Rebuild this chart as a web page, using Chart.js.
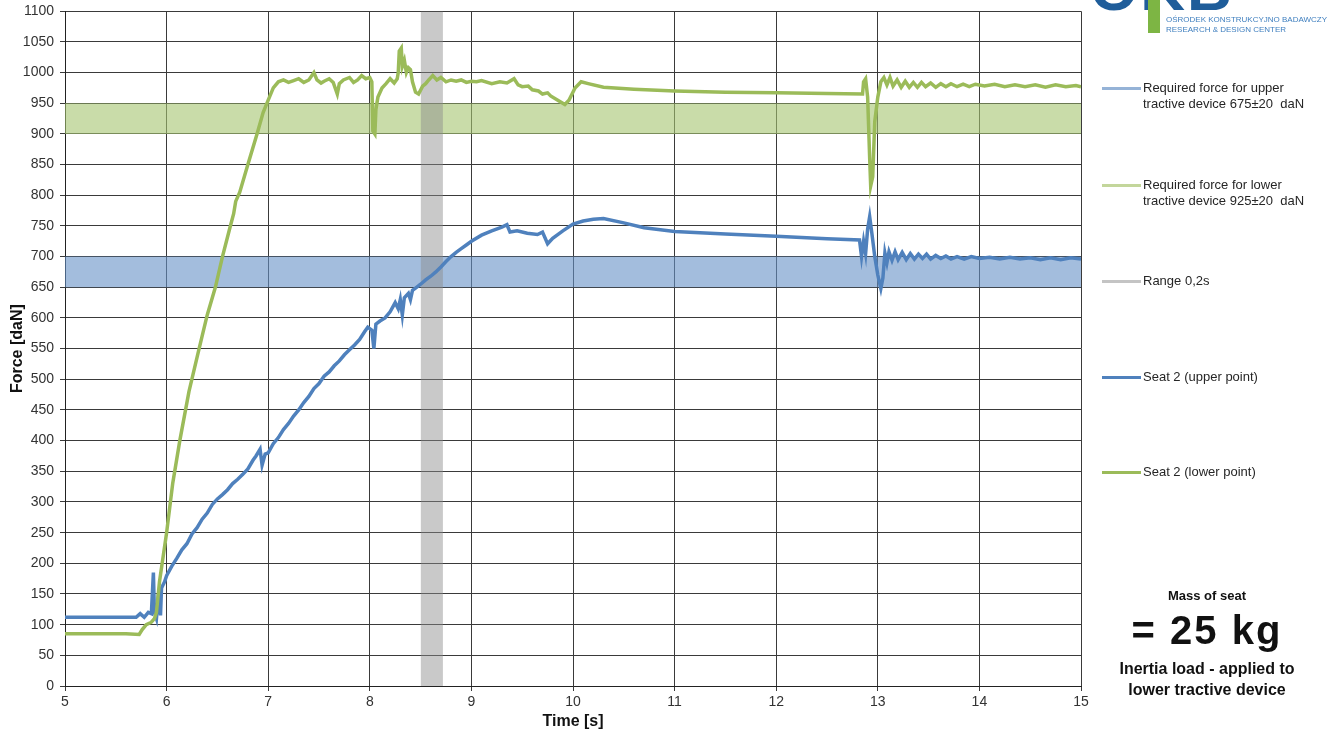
<!DOCTYPE html>
<html lang="en">
<head>
  <meta charset="UTF-8" />
  <title>Seat 2 - force vs time</title>
  <script src="https://cdn.jsdelivr.net/npm/chart.js"></script>
  <style>
    body { margin: 0; background: #fff; font-family: 'Liberation Sans', Arial, sans-serif; overflow: hidden; }
    #wrap { position: relative; width: 1329px; height: 735px; }
    #grafico { position: absolute; left: 0; top: 0; }
    .leg { position: absolute; left: 1102px; font-size: 13px; line-height: 16px; color: #262626; }
    .leg i { position: absolute; left: 0; width: 39px; height: 3px; }
    .leg span { position: absolute; left: 41px; white-space: nowrap; }
    .note { position: absolute; left: 1087px; width: 240px; text-align: center; font-weight: bold; color: #111; white-space: nowrap; }
    #logo { position: absolute; left: 1090px; top: 0; width: 239px; height: 40px; overflow: hidden; }
    #logo .big { position: absolute; left: 0; top: -42px; font: bold 62px/62px 'Liberation Sans', Arial, sans-serif; color: #1f5d9a; letter-spacing: 2px; }
    #logo .bar { position: absolute; left: 58px; top: 0; width: 12px; height: 33px; background: #7db544; }
    #logo .small { position: absolute; left: 76px; font-size: 8px; line-height: 10px; color: #3f7fbf; white-space: nowrap; }
  </style>
</head>
<body>
<div id="wrap">
  <canvas id="grafico" width="1329" height="735"></canvas>

  <div id="logo">
    <div class="big">OKB</div>
    <div class="bar"></div>
    <div class="small" style="top:15px">OŚRODEK KONSTRUKCYJNO BADAWCZY</div>
    <div class="small" style="top:25px">RESEARCH &amp; DESIGN CENTER</div>
  </div>

  <div class="leg" style="top:80px"><i style="top:7px;background:#95b3d7"></i><span>Required force for upper<br>tractive device 675±20&nbsp; daN</span></div>
  <div class="leg" style="top:177px"><i style="top:7px;background:#c3d69b"></i><span>Required force for lower<br>tractive device 925±20&nbsp; daN</span></div>
  <div class="leg" style="top:273px"><i style="top:7px;background:#c4c4c4"></i><span>Range 0,2s</span></div>
  <div class="leg" style="top:369px"><i style="top:7px;background:#4f81bd"></i><span>Seat 2 (upper point)</span></div>
  <div class="leg" style="top:464px"><i style="top:7px;background:#9bbb59"></i><span>Seat 2 (lower point)</span></div>

  <div class="note" style="top:588px;font-size:13px;line-height:16px">Mass of seat</div>
  <div class="note" style="top:608px;font-size:40px;line-height:44px;letter-spacing:2px">= 25 kg</div>
  <div class="note" style="top:659px;font-size:16px;line-height:20px">Inertia load - applied to</div>
  <div class="note" style="top:680px;font-size:16px;line-height:20px">lower tractive device</div>
</div>

<script>
  // Seat 2 (lower point) - time [s] / force [daN]
  const lowerTime = [5.00, 5.30, 5.60, 5.73, 5.76, 5.80, 5.85, 5.88, 5.90, 5.93, 6.00, 6.06, 6.13, 6.22, 6.32, 6.40, 6.48, 6.55, 6.62, 6.66,
    6.68, 6.72, 6.80, 6.89, 6.95, 7.00, 7.05, 7.10, 7.15, 7.20, 7.25, 7.30, 7.35, 7.40, 7.45, 7.48, 7.52, 7.55, 7.60, 7.64,
    7.68, 7.70, 7.74, 7.80, 7.84, 7.88, 7.92, 7.96, 8.00, 8.02, 8.03, 8.05, 8.06, 8.08, 8.12, 8.16, 8.20, 8.24, 8.27, 8.28,
    8.29, 8.31, 8.32, 8.34, 8.36, 8.38, 8.40, 8.42, 8.45, 8.48, 8.52, 8.55, 8.58, 8.62, 8.66, 8.70, 8.75, 8.80, 8.85, 8.90,
    8.95, 9.00, 9.05, 9.10, 9.20, 9.28, 9.35, 9.42, 9.46, 9.50, 9.56, 9.60, 9.66, 9.70, 9.75, 9.78, 9.85, 9.92, 9.96, 10.02,
    10.08, 10.15, 10.30, 10.60, 11.00, 11.50, 12.00, 12.50, 12.85, 12.86, 12.88, 12.90, 12.92, 12.93, 12.95, 12.97, 13.00, 13.03, 13.06, 13.09,
    13.12, 13.15, 13.19, 13.23, 13.27, 13.31, 13.35, 13.39, 13.43, 13.47, 13.52, 13.57, 13.62, 13.67, 13.72, 13.78, 13.84, 13.90, 13.96, 14.05,
    14.15, 14.25, 14.35, 14.45, 14.55, 14.65, 14.75, 14.85, 14.95, 15.00];
  const lowerForce = [85, 85, 85, 84, 92, 100, 104, 110, 120, 170, 250, 330, 400, 480, 550, 605, 650, 700, 745, 770,
    790, 805, 850, 900, 935, 955, 975, 985, 988, 984, 987, 990, 984, 988, 1000, 988, 983, 986, 990, 984,
    965, 982, 988, 992, 984, 988, 995, 990, 992, 985, 905, 900, 940, 960, 975, 982, 990, 983, 990, 1000,
    1035, 1040, 1010, 1020, 1000, 1008, 1005, 985, 968, 965, 978, 982, 988, 995, 988, 992, 985, 988, 986, 988,
    984, 986, 985, 987, 982, 985, 983, 990, 980, 977, 978, 972, 970, 965, 967, 962, 955, 948, 955, 975,
    985, 982, 976, 973, 970, 968, 967, 966, 965, 985, 990, 960, 860, 815, 830, 920, 960, 985, 992, 980,
    992, 978, 988, 976, 986, 976, 984, 976, 984, 977, 983, 976, 982, 977, 982, 977, 981, 977, 981, 978,
    981, 977, 980, 977, 980, 976, 980, 977, 979, 977];

  // Seat 2 (upper point) - time [s] / force [daN]
  const upperTime = [5.00, 5.40, 5.70, 5.74, 5.78, 5.82, 5.85, 5.87, 5.88, 5.90, 5.92, 5.94, 5.95, 5.98, 6.00, 6.05, 6.10, 6.15, 6.20, 6.25,
    6.30, 6.35, 6.40, 6.45, 6.50, 6.55, 6.60, 6.65, 6.70, 6.75, 6.80, 6.85, 6.88, 6.92, 6.94, 6.97, 7.00, 7.05, 7.10, 7.15,
    7.20, 7.25, 7.30, 7.35, 7.40, 7.45, 7.50, 7.55, 7.60, 7.65, 7.70, 7.75, 7.80, 7.85, 7.90, 7.95, 7.98, 8.02, 8.04, 8.06,
    8.10, 8.15, 8.20, 8.25, 8.28, 8.30, 8.32, 8.34, 8.38, 8.40, 8.42, 8.46, 8.50, 8.55, 8.60, 8.65, 8.70, 8.75, 8.80, 8.85,
    8.90, 8.95, 9.00, 9.10, 9.20, 9.30, 9.35, 9.38, 9.45, 9.55, 9.65, 9.70, 9.75, 9.80, 9.90, 10.00, 10.10, 10.20, 10.30, 10.50,
    10.70, 11.00, 11.50, 12.00, 12.50, 12.82, 12.84, 12.86, 12.88, 12.90, 12.92, 12.94, 12.97, 13.00, 13.03, 13.05, 13.07, 13.09, 13.11, 13.14,
    13.17, 13.20, 13.24, 13.28, 13.32, 13.36, 13.40, 13.44, 13.48, 13.52, 13.57, 13.62, 13.67, 13.72, 13.78, 13.85, 13.92, 14.00, 14.10, 14.20,
    14.30, 14.40, 14.50, 14.60, 14.70, 14.80, 14.90, 15.00];
  const upperForce = [112, 112, 112, 118, 112, 120, 118, 185, 120, 110, 150, 115, 160, 170, 180, 195, 208, 222, 232, 248,
    258, 272, 282, 296, 305, 312, 320, 330, 337, 345, 354, 368, 375, 386, 360, 378, 380, 395, 405, 418,
    428, 440, 450, 462, 472, 485, 493, 505, 512, 522, 530, 540, 548, 556, 565, 578, 585, 580, 550, 590,
    595, 600, 610, 625, 615, 630, 605, 633, 640, 630, 645, 650, 655, 662, 668, 675, 683, 692, 700, 707,
    713, 719, 725, 735, 742, 748, 752, 740, 742, 738, 736, 740, 721, 730, 742, 753, 758, 761, 762, 755,
    747, 741, 737, 733, 729, 727, 700, 725, 705, 745, 765, 740, 700, 670, 648, 665, 706, 690, 708, 694,
    708, 695, 707, 695, 705, 696, 704, 697, 704, 696, 702, 697, 701, 696, 700, 696, 700, 697, 699, 696,
    699, 696, 698, 695, 698, 695, 698, 696];

  // required ranges [daN] and the 0,2 s window [s]
  const upperRange = [650, 700];
  const lowerRange = [900, 950];
  const windowRange = [8.5, 8.72];

  const xMin = 5, xMax = 15, yMin = 0, yMax = 1100;

  const pares = (t, f) => t.map((v, i) => ({ x: v, y: f[i] }));
  const banda = (lo, hi) => [{ x: xMin, y: hi }, { x: xMax, y: hi }];

  const fuente = "'Liberation Sans', Arial, sans-serif";
  const ctx = document.getElementById('grafico').getContext('2d');

  new Chart(ctx, {
    type: 'line',
    data: {
      datasets: [
        { label: 'Seat 2 (lower point)', data: pares(lowerTime, lowerForce), borderColor: '#9bbb59', borderWidth: 3.5, pointRadius: 0, fill: false, order: 0 },
        { label: 'Seat 2 (upper point)', data: pares(upperTime, upperForce), borderColor: '#4f81bd', borderWidth: 3.5, pointRadius: 0, fill: false, order: 1 },
        { label: 'Range 0,2s', data: windowRange.map(v => ({ x: v, y: yMax })), borderWidth: 0, borderColor: 'rgba(0,0,0,0)',
          backgroundColor: 'rgba(140,140,140,0.47)', pointRadius: 0, fill: { value: yMin }, order: 2 },
        { label: 'Required force for upper tractive device 675±20 daN', data: banda(upperRange[0], upperRange[1]), borderWidth: 0,
          borderColor: 'rgba(0,0,0,0)', backgroundColor: 'rgba(102,145,198,0.6)', pointRadius: 0, fill: { value: upperRange[0] }, order: 3 },
        { label: 'Required force for lower tractive device 925±20 daN', data: banda(lowerRange[0], lowerRange[1]), borderWidth: 0,
          borderColor: 'rgba(0,0,0,0)', backgroundColor: 'rgba(165,197,112,0.6)', pointRadius: 0, fill: { value: lowerRange[0] }, order: 3 }
      ]
    },
    options: {
      responsive: false,
      animation: false,
      devicePixelRatio: 1,
      layout: { padding: { left: 0, top: 4, right: 248, bottom: 0 } },
      plugins: { legend: { display: false }, tooltip: { enabled: false } },
      scales: {
        x: {
          type: 'linear', min: xMin, max: xMax,
          ticks: { stepSize: 1, color: '#333', padding: 3, font: { family: fuente, size: 14 }, callback: (v) => String(v) },
          grid: { color: '#3a3a3a', lineWidth: 1, tickLength: 5 },
          border: { color: '#222', width: 1 },
          title: { display: true, text: 'Time [s]', color: '#111', padding: { top: 0, bottom: 4 }, font: { family: fuente, size: 16, weight: 'bold' } },
          afterFit: (s) => { s.height = 49; }
        },
        y: {
          type: 'linear', min: yMin, max: yMax,
          ticks: { stepSize: 50, color: '#333', padding: 6, autoSkip: false, font: { family: fuente, size: 14, lineHeight: 0.75 }, callback: (v) => String(v) },
          grid: { color: '#3a3a3a', lineWidth: 1, tickLength: 5 },
          border: { color: '#222', width: 1 },
          title: { display: true, text: 'Force [daN]', color: '#111', padding: { top: 8, bottom: 0 }, font: { family: fuente, size: 16, weight: 'bold' } },
          afterFit: (s) => { s.width = 65; }
        }
      }
    }
  });
</script>
</body>
</html>
